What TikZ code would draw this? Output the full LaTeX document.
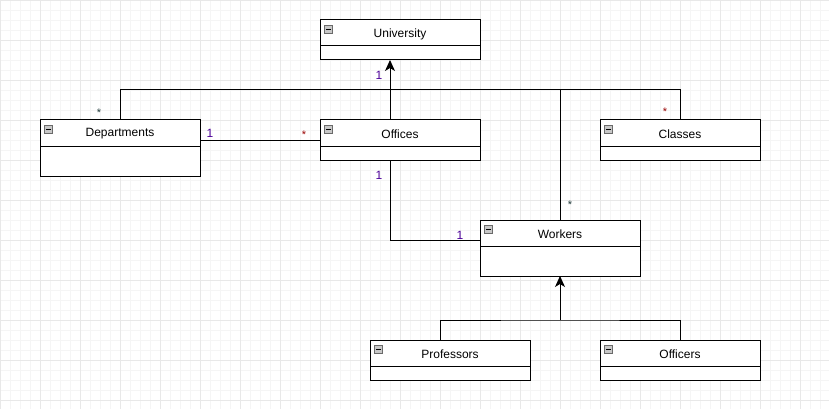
\documentclass[tikz,border=0pt]{standalone}
\usepackage{fontspec}
\setmainfont{Liberation Sans}
\usetikzlibrary{arrows.meta}
\definecolor{gridminor}{HTML}{F5F5F5}
\definecolor{gridmajor}{HTML}{E8E8E8}
\definecolor{multone}{HTML}{4C0099}
\definecolor{multred}{HTML}{990000}
\definecolor{multdark}{HTML}{1F3A3A}
\definecolor{iconfill}{HTML}{C8C8C8}
\definecolor{iconedge}{HTML}{6A6A6A}
\tikzset{
  umlbox/.style={draw=black, line width=1pt, fill=white, minimum width=160pt,
    anchor=north west, inner sep=0pt, outer sep=0pt},
  classname/.style={font=\fontsize{12}{14}\selectfont, text=black, inner sep=0pt},
  link/.style={draw=black, line width=1pt},
  genarrow/.style={link, -{Stealth[length=11pt, width=10pt, inset=3pt]}},
  numlabel/.style={font=\fontsize{12}{14}\selectfont, text=multone, inner sep=0pt},
  starlabel/.style={font=\fontsize{11}{13}\selectfont, inner sep=0pt, anchor=base},
}
% one UML class: #1 name, #2 x, #3 y, #4 total height, #5 title
\newcommand{\umlclass}[5]{%
  \node[umlbox, minimum height=#4pt] (#1) at (#2,#3) {};
  \draw[line width=1pt] (#2,#3+26) -- (#2+160,#3+26);
  \node[classname] (#1-title) at (#2+80,#3+14) {#5};
  \draw[draw=iconedge, fill=iconfill, line width=0.6pt] (#2+4.5,#3+5.5) rectangle (#2+12.5,#3+13);
  \draw[black, line width=0.9pt] (#2+6.2,#3+9.3) -- (#2+10.8,#3+9.3);
}
\begin{document}
\begin{tikzpicture}[x=1pt, y=-1pt]
  \useasboundingbox (0,0) rectangle (829,409);
  \fill[white] (0,0) rectangle (829,409);
  % background grid
  \foreach \gx in {0,10,...,820} \draw[gridminor, line width=0.6pt] (\gx,0) -- (\gx,409);
  \foreach \gy in {0,10,...,400} \draw[gridminor, line width=0.6pt] (0,\gy) -- (829,\gy);
  \foreach \gx in {0,40,...,800} \draw[gridmajor, line width=0.6pt] (\gx,0) -- (\gx,409);
  \foreach \gy in {0,40,...,400} \draw[gridmajor, line width=0.6pt] (0,\gy) -- (829,\gy);

  % junction points of the connectors
  \coordinate (bus) at (560,90);
  \coordinate (inh) at (560,320);

  % connectors (drawn first so the boxes sit on top)
  \draw[link] (120,120) -- (120,90) -- (680,90) -- (680,120);
  \draw[link] (bus) -- (560,220);
  \draw[link] (200,140) -- (320,140);
  \draw[link] (390,160) |- (480,240);
  \draw[link] (440,340) |- (inh) -| (680,340);

  % classes
  \umlclass{univ}{320}{20}{40}{University}
  \umlclass{dept}{40}{120}{56}{Departments}
  \umlclass{off}{320}{120}{40}{Offices}
  \umlclass{cls}{600}{120}{40}{Classes}
  \umlclass{wrk}{480}{220}{56}{Workers}
  \umlclass{prof}{370}{340}{40}{Professors}
  \umlclass{ofc}{600}{340}{40}{Officers}

  % arrows
  \draw[genarrow] ([xshift=-10pt]off.north) -- ([xshift=-10pt]univ.south);
  \draw[genarrow] (inh) -- (wrk.south);

  % multiplicities
  \node[numlabel] (m1) at (379,75) {1};
  \node[numlabel] (m2) at (210,133) {1};
  \node[numlabel] (m3) at (379,175) {1};
  \node[numlabel] (m4) at (460,235) {1};
  \node[starlabel, text=multdark] (s1) at (99,117) {*};
  \node[starlabel, text=multred] (s2) at (304,138) {*};
  \node[starlabel, text=multred] (s3) at (665,116) {*};
  \node[starlabel, text=multdark] (s4) at (570,208.5) {*};
\end{tikzpicture}
\end{document}
